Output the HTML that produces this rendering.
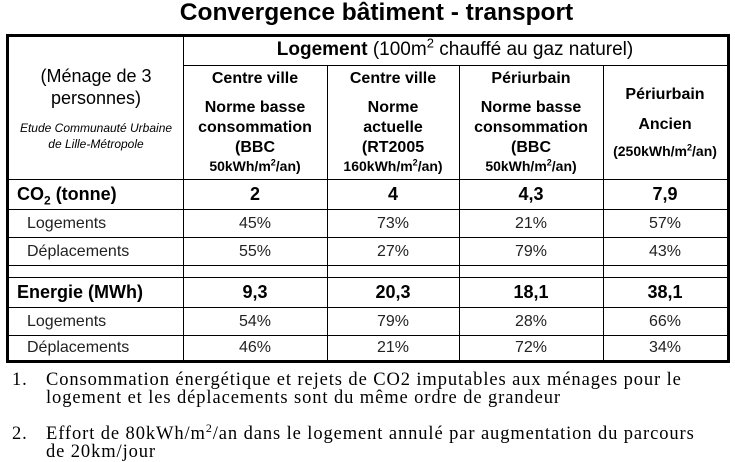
<!DOCTYPE html>
<html><head><meta charset="utf-8"><style>
body{margin:0;width:735px;height:462px;background:#fff;position:relative;overflow:hidden;font-family:"Liberation Sans",sans-serif;color:#000}
.a{position:absolute}
.t{position:absolute;text-align:center;white-space:nowrap}
.h{background:#000;position:absolute;height:1px}
.v{background:#000;position:absolute;width:1px}
.b{font-weight:bold}
.fn{position:absolute;left:12px;font-family:"Liberation Serif",serif;font-size:18.5px;letter-spacing:0.9px;line-height:18px;white-space:nowrap}
</style></head><body>
<div class="t b" style="left:0;width:753px;top:0;font-size:24.5px;line-height:26px">Convergence bâtiment - transport</div>

<div class="a" style="left:6px;top:34px;width:718px;height:323px;border:3px solid #000"></div>
<div class="v" style="left:183px;top:37px;height:323px"></div>
<div class="v" style="left:327px;top:65px;height:295px"></div>
<div class="v" style="left:459px;top:65px;height:295px"></div>
<div class="v" style="left:603px;top:65px;height:295px"></div>
<div class="h" style="left:183px;width:544px;top:65px"></div>
<div class="h" style="left:9px;width:718px;top:179px"></div>
<div class="h" style="left:9px;width:718px;top:209px"></div>
<div class="h" style="left:9px;width:718px;top:237px"></div>
<div class="h" style="left:9px;width:718px;top:265px"></div>
<div class="h" style="left:9px;width:718px;top:277px"></div>
<div class="h" style="left:9px;width:718px;top:307px"></div>
<div class="h" style="left:9px;width:718px;top:335px"></div>

<div class="t" style="left:183px;width:544px;top:39px;font-size:19px;line-height:22px"><b>Logement</b> (100m<sup style="font-size:13px;line-height:0">2</sup> chauffé au gaz naturel)</div>
<div class="t" style="left:9px;width:174px;top:65px;font-size:18px;line-height:22px">(Ménage de 3<br>personnes)</div>
<div class="t" style="left:9px;width:174px;top:120px;font-size:12px;line-height:16px;font-style:italic">Etude Communauté Urbaine<br>de Lille-Métropole</div>

<div class="t b" style="left:183px;width:144px;top:69px;font-size:16px;line-height:20px">Centre ville</div>
<div class="t b" style="left:183px;width:144px;top:98px;font-size:16px;line-height:20px">Norme basse<br>consommation<br>(BBC</div>
<div class="t b" style="left:183px;width:144px;top:158px;font-size:14px;line-height:17px">50kWh/m<sup style="font-size:9px;line-height:0">2</sup>/an)</div>

<div class="t b" style="left:327px;width:132px;top:69px;font-size:16px;line-height:20px">Centre ville</div>
<div class="t b" style="left:327px;width:132px;top:98px;font-size:16px;line-height:20px">Norme<br>actuelle<br>(RT2005</div>
<div class="t b" style="left:327px;width:132px;top:158px;font-size:14px;line-height:17px">160kWh/m<sup style="font-size:9px;line-height:0">2</sup>/an)</div>

<div class="t b" style="left:459px;width:144px;top:69px;font-size:16px;line-height:20px">Périurbain</div>
<div class="t b" style="left:459px;width:144px;top:98px;font-size:16px;line-height:20px">Norme basse<br>consommation<br>(BBC</div>
<div class="t b" style="left:459px;width:144px;top:158px;font-size:14px;line-height:17px">50kWh/m<sup style="font-size:9px;line-height:0">2</sup>/an)</div>

<div class="t b" style="left:603px;width:124px;top:85px;font-size:16px;line-height:20px">Périurbain</div>
<div class="t b" style="left:603px;width:124px;top:115px;font-size:16px;line-height:20px">Ancien</div>
<div class="t b" style="left:603px;width:124px;top:143px;font-size:14px;line-height:17px">(250kWh/m<sup style="font-size:9px;line-height:0">2</sup>/an)</div>

<div id="rows"></div>

<div class="fn" style="top:371px"><span style="display:inline-block;width:34px">1.</span>Consommation énergétique et rejets de CO2 imputables aux ménages pour le<br><span style="display:inline-block;width:34px"></span>logement et les déplacements sont du même ordre de grandeur</div>
<div class="fn" style="top:425px"><span style="display:inline-block;width:34px">2.</span>Effort de 80kWh/m<sup style="font-size:12px;line-height:0">2</sup>/an dans le logement annulé par augmentation du parcours<br><span style="display:inline-block;width:34px"></span>de 20km/jour</div>

<script>
const rowLabels=["CO<sub>2</sub> (tonne)","Logements","Déplacements","","Energie (MWh)","Logements","Déplacements"];
const co2=["2","4","4,3","7,9"];
const co2Log=["45%","73%","21%","57%"];
const co2Dep=["55%","27%","79%","43%"];
const en=["9,3","20,3","18,1","38,1"];
const enLog=["54%","79%","28%","66%"];
const enDep=["46%","21%","72%","34%"];
const rowsData=[co2,co2Log,co2Dep,null,en,enLog,enDep];
const rowTops=[179,209,237,265,277,307,335];
const rowH=[30,28,28,12,30,28,25];
const colL=[183,327,459,603], colW=[144,132,144,124];
const host=document.getElementById('rows');
rowsData.forEach((vals,r)=>{
  if(!vals)return;
  const bold=(r===0||r===4);
  const lab=document.createElement('div');
  lab.className='a';
  
  
  lab.style.cssText=`left:${bold?17:27}px;top:${rowTops[r]}px;height:${rowH[r]}px;line-height:${rowH[r]+1}px;font-size:${bold?18:16}px;font-weight:${bold?'bold':'normal'};white-space:nowrap;color:${bold?'#000':'#222'}`;
  lab.innerHTML=rowLabels[r].replace('<sub>','<sub style="font-size:12px;line-height:0">');
  host.appendChild(lab);
  vals.forEach((v,c)=>{
    const d=document.createElement('div');
    d.className='t';
    
    
    d.style.cssText=`left:${colL[c]}px;width:${colW[c]}px;top:${rowTops[r]}px;line-height:${rowH[r]+1}px;font-size:${bold?18:16}px;font-weight:${bold?'bold':'normal'};color:${bold?'#000':'#222'}`;
    d.textContent=v;
    host.appendChild(d);
  });
});
</script>
</body></html>
